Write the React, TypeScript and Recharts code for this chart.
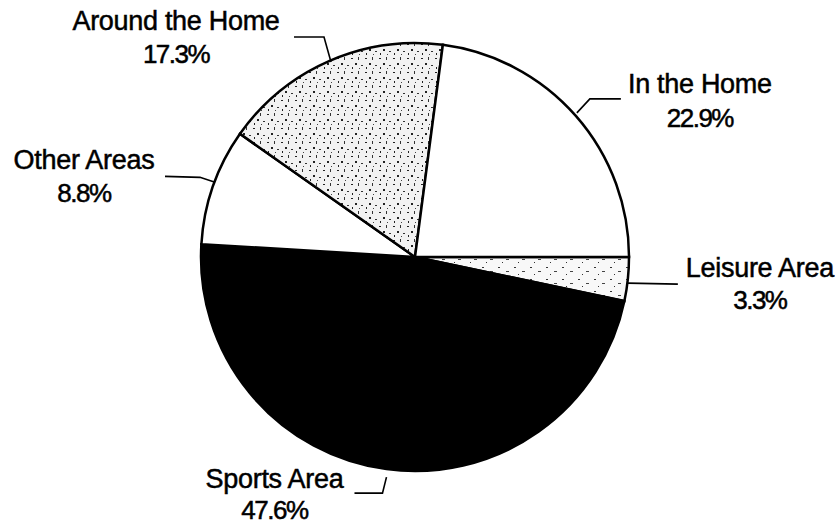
import React from 'react';
import { PieChart, Pie, Cell } from 'recharts';

const categories = ['Leisure Area', 'Sports Area', 'Other Areas', 'Around the Home', 'In the Home'];
const shares = [3.3, 47.6, 8.8, 17.3, 22.9];
const percentLabels = ['3.3%', '47.6%', '8.8%', '17.3%', '22.9%'];

const data = categories.map((name, i) => ({ name, value: shares[i], pct: percentLabels[i] }));

const fills = ['url(#stippleLight)', '#000000', '#ffffff', 'url(#stippleDense)', '#ffffff'];

// label layout, offsets relative to the slice's outer-edge mid point
const labelLayout: Record<string, { line: number[][]; tx: number; b1: number; b2: number }> = {
  'Leisure Area': { line: [[0, 4], [50, 5]], tx: 132, b1: -2, b2: 30 },
  'Sports Area': { line: [[0, 8], [-4, 24], [-32, 24]], tx: -112, b1: 19, b2: 50 },
  'Other Areas': { line: [[2, -4], [-13, -9], [-48, -10]], tx: -129, b1: -17, b2: 16 },
  'Around the Home': { line: [[2, 1], [-5, -24], [-35, -24]], tx: -153, b1: -31, b2: 2 },
  'In the Home': { line: [[1, -3], [14, -17], [45, -17]], tx: 124, b1: -23, b2: 11 },
};

const RADIAN = Math.PI / 180;
const FONT = "'Liberation Sans', Arial, sans-serif";

const renderLabel = (props: any) => {
  const { cx, cy, midAngle, outerRadius, name, payload } = props;
  const ex = cx + outerRadius * Math.cos(-midAngle * RADIAN);
  const ey = cy + outerRadius * Math.sin(-midAngle * RADIAN);
  const lay = labelLayout[name];
  if (!lay) return null;
  const pts = lay.line.map(([dx, dy]) => `${ex + dx},${ey + dy}`).join(' ');
  const pct = payload && payload.pct ? payload.pct : props.pct;
  return (
    <g>
      <polyline points={pts} fill="none" stroke="#000" strokeWidth={1.6} />
      <text x={ex + lay.tx} y={ey + lay.b1} textAnchor="middle" fontFamily={FONT} fontSize={27} fill="#000" stroke="#000" strokeWidth={0.5} letterSpacing={-0.3}>
        {name}
      </text>
      <text x={ex + lay.tx} y={ey + lay.b2} textAnchor="middle" fontFamily={FONT} fontSize={26} fill="#000" stroke="#000" strokeWidth={0.5} letterSpacing={-1.5}>
        {pct}
      </text>
    </g>
  );
};

export default function App() {
  return (
    <div style={{ position: 'absolute', left: 0, top: 0, width: 839, height: 525, background: '#fff' }}>
      <PieChart width={839} height={525} margin={{ top: 0, right: 0, bottom: 0, left: 0 }}>
        <defs>
          <pattern id="stippleDense" width="14" height="14" patternUnits="userSpaceOnUse">
            <rect width="14" height="14" fill="#f2f2f2" />
            <rect x="1" y="2" width="2" height="1" fill="#222" />
            <rect x="8" y="1" width="1" height="3" fill="#333" />
            <rect x="5" y="7" width="2" height="2" fill="#222" />
            <rect x="11" y="9" width="2" height="1" fill="#333" />
            <rect x="2" y="11" width="1" height="2" fill="#222" />
            <rect x="9" y="12" width="1" height="1" fill="#444" />
          </pattern>
          <pattern id="stippleLight" width="16" height="12" patternUnits="userSpaceOnUse">
            <rect width="16" height="12" fill="#f8f8f8" />
            <rect x="2" y="3" width="2" height="1" fill="#333" />
            <rect x="10" y="7" width="3" height="1" fill="#444" />
            <rect x="6" y="10" width="1" height="1" fill="#333" />
          </pattern>
        </defs>
        <Pie
          data={data}
          dataKey="value"
          nameKey="name"
          cx={415}
          cy={257}
          outerRadius={214}
          startAngle={0}
          endAngle={-360}
          stroke="#000"
          strokeWidth={2.5}
          isAnimationActive={false}
          labelLine={false}
          label={renderLabel}
        >
          {data.map((d, i) => (
            <Cell key={d.name} fill={fills[i]} stroke="#000" strokeWidth={2.5} />
          ))}
        </Pie>
      </PieChart>
    </div>
  );
}
